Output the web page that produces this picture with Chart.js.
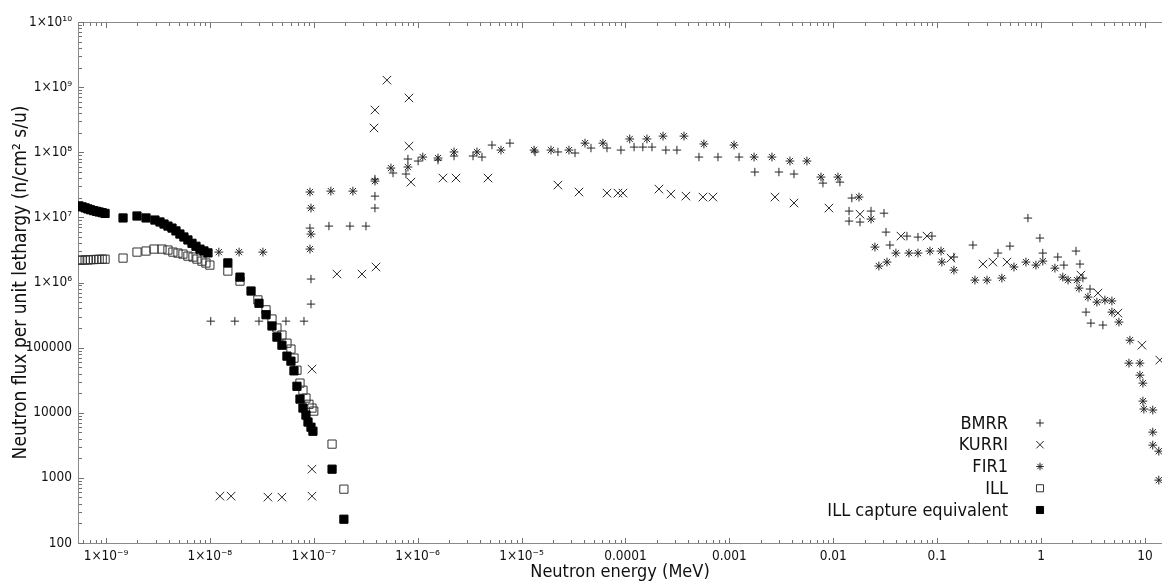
<!DOCTYPE html>
<html><head><meta charset="utf-8">
<script src="https://cdn.jsdelivr.net/npm/chart.js@4.4.1/dist/chart.umd.min.js"></script>
<style>html,body{margin:0;padding:0;background:#fff;overflow:hidden}</style>
</head><body>
<canvas id="c" width="1162" height="583"></canvas>
<script>
// ---------- data (energy in MeV, flux in n/cm2 s/u) ----------
const bmrrE = [1.02e-8,1.74e-8,2.97e-8,5.40e-8,8.05e-8,9.40e-8,9.40e-8,9.19e-8,1.40e-7,2.23e-7,3.18e-7,3.88e-7,3.88e-7,3.88e-7,5.79e-7,7.72e-7,8.06e-7,1.01e-6,1.57e-6,2.24e-6,3.41e-6,4.16e-6,5.19e-6,7.73e-6,1.35e-5,2.24e-5,3.27e-5,4.66e-5,6.64e-5,9.05e-5,1.21e-4,1.47e-4,1.80e-4,2.45e-4,3.13e-4,5.10e-4,7.77e-4,1.24e-3,1.76e-3,3.00e-3,4.19e-3,7.96e-3,1.16e-2,1.51e-2,1.42e-2,1.42e-2,1.81e-2,2.31e-2,3.08e-2,3.22e-2,3.51e-2,5.12e-2,6.54e-2,8.91e-2,0.145,0.221,0.385,0.502,0.748,0.976,1.04,1.45,1.66,2.17,2.37,2.53,2.96,2.71,3.02,3.94];
const bmrrFlux = [2.55e5,2.55e5,2.55e5,2.55e5,2.55e5,4.66e5,1.13e6,6.85e6,7.35e6,7.35e6,7.35e6,1.39e7,2.12e7,3.87e7,4.80e7,4.63e7,7.87e7,7.33e7,7.59e7,8.75e7,8.75e7,8.44e7,1.29e8,1.38e8,1.01e8,1.01e8,9.73e7,1.16e8,1.16e8,1.08e8,1.20e8,1.20e8,1.20e8,1.08e8,1.08e8,8.44e7,8.44e7,8.44e7,4.97e7,4.97e7,4.63e7,3.36e7,3.48e7,1.98e7,1.25e7,8.77e6,8.47e6,1.25e7,1.16e7,5.94e6,3.76e6,5.16e6,4.98e6,5.16e6,2.46e6,3.76e6,2.83e6,3.62e6,9.76e6,4.81e6,2.83e6,2.46e6,1.85e6,3.04e6,1.92e6,1.17e6,7.93e5,3.51e5,2.38e5,2.22e5];

const kurriE = [1.25e-8,1.60e-8,3.62e-8,4.94e-8,9.61e-8,9.61e-8,9.61e-8,1.67e-7,2.91e-7,3.97e-7,3.80e-7,3.88e-7,5.06e-7,8.25e-7,8.25e-7,8.62e-7,1.75e-6,2.34e-6,4.75e-6,2.24e-5,3.57e-5,6.64e-5,8.47e-5,9.46e-5,2.10e-4,2.74e-4,3.82e-4,5.57e-4,6.95e-4,2.75e-3,4.19e-3,9.09e-3,1.81e-2,4.48e-2,7.98e-2,0.136,0.276,0.344,0.470,2.42,3.53,5.50,9.36,13.9];
const kurriFlux = [524,524,506,506,524,1360,4.68e4,1.35e6,1.35e6,1.73e6,2.36e8,4.45e8,1.28e9,6.81e8,1.24e8,3.48e7,4.02e7,4.02e7,4.02e7,3.13e7,2.45e7,2.36e7,2.36e7,2.36e7,2.72e7,2.28e7,2.12e7,2.05e7,2.05e7,2.05e7,1.66e7,1.39e7,1.12e7,5.16e6,5.16e6,2.37e6,1.92e6,2.06e6,2.06e6,1.30e6,6.87e5,3.39e5,1.09e5,6.43e4];

const fir1E = [1.22e-8,1.91e-8,3.24e-8,9.19e-8,9.40e-8,9.40e-8,9.19e-8,1.46e-7,2.38e-7,3.88e-7,5.53e-7,8.06e-7,1.12e-6,1.57e-6,2.24e-6,3.72e-6,6.34e-6,1.32e-5,1.92e-5,2.86e-5,4.08e-5,6.07e-5,1.10e-4,1.61e-4,2.30e-4,3.66e-4,5.69e-4,1.11e-3,1.73e-3,2.57e-3,3.83e-3,5.58e-3,7.62e-3,1.11e-2,1.77e-2,2.31e-2,2.52e-2,2.75e-2,3.29e-2,4.01e-2,5.35e-2,6.54e-2,8.53e-2,0.109,0.111,0.145,0.231,0.302,0.420,0.549,0.716,0.893,1.04,1.36,1.62,1.82,2.22,2.32,2.83,3.45,4.12,4.81,4.81,5.62,7.17,7.02,8.95,8.95,9.56,9.56,9.77,11.9,11.9,11.9,13.6,13.6];
const fir1Flux = [2.93e6,2.93e6,2.93e6,2.45e7,1.39e7,5.54e6,3.26e6,2.53e7,2.53e7,3.61e7,5.72e7,5.93e7,8.44e7,8.15e7,1.01e8,1.01e8,1.08e8,1.08e8,1.08e8,1.08e8,1.38e8,1.38e8,1.60e8,1.60e8,1.77e8,1.77e8,1.34e8,1.29e8,8.44e7,8.44e7,7.33e7,7.33e7,4.16e7,4.16e7,2.05e7,9.42e6,3.50e6,1.79e6,2.06e6,2.83e6,2.83e6,2.83e6,3.04e6,3.04e6,2.06e6,1.55e6,1.09e6,1.09e6,1.17e6,1.73e6,2.06e6,1.85e6,2.13e6,1.66e6,1.21e6,1.09e6,1.09e6,8.20e5,5.97e5,5.00e5,5.37e5,5.20e5,3.51e5,2.47e5,1.30e5,5.78e4,5.78e4,3.78e4,2.85e4,1.51e4,1.14e4,1.10e4,5.04e3,3.18e3,2.57e3,923];

const illE = [5.5e-10,5.9e-10,6.3e-10,6.7e-10,7.1e-10,7.6e-10,8.1e-10,8.6e-10,9.2e-10,9.8e-10,1.46e-9,1.99e-9,2.43e-9,2.90e-9,3.46e-9,3.95e-9,4.41e-9,4.93e-9,5.51e-9,6.15e-9,6.88e-9,7.51e-9,8.39e-9,9.17e-9,1.00e-8,1.49e-8,1.95e-8,2.90e-8,3.47e-8,3.96e-8,4.42e-8,4.94e-8,5.52e-8,6.03e-8,6.45e-8,6.89e-8,7.37e-8,7.87e-8,8.41e-8,8.99e-8,9.61e-8,1.00e-7,1.50e-7,1.95e-7];
const illFlux = [2.20e6,2.20e6,2.22e6,2.22e6,2.24e6,2.25e6,2.26e6,2.27e6,2.28e6,2.28e6,2.37e6,2.93e6,3.04e6,3.26e6,3.26e6,3.15e6,2.93e6,2.83e6,2.73e6,2.54e6,2.46e6,2.29e6,2.13e6,1.99e6,1.85e6,1.50e6,1.05e6,5.4e5,3.8e5,2.75e5,2.0e5,1.56e5,1.17e5,9.5e4,6.9e4,4.5e4,2.85e4,2.22e4,1.68e4,1.35e4,1.18e4,1.06e4,3.3e3,671];

const illCapE = [5.5e-10,5.9e-10,6.3e-10,6.7e-10,7.1e-10,7.6e-10,8.1e-10,8.6e-10,9.2e-10,9.8e-10,1.46e-9,1.99e-9,2.43e-9,2.96e-9,3.31e-9,3.62e-9,3.95e-9,4.32e-9,4.72e-9,5.15e-9,5.63e-9,6.15e-9,6.73e-9,7.35e-9,8.03e-9,8.77e-9,9.59e-9,1.49e-8,1.95e-8,2.49e-8,2.97e-8,3.47e-8,3.96e-8,4.42e-8,4.94e-8,5.52e-8,6.03e-8,6.45e-8,6.89e-8,7.37e-8,7.87e-8,8.41e-8,8.80e-8,9.40e-8,9.82e-8,1.50e-7,1.95e-7];
const illCapFlux = [1.50e7,1.45e7,1.40e7,1.35e7,1.31e7,1.27e7,1.24e7,1.21e7,1.18e7,1.15e7,9.8e6,1.05e7,9.8e6,9.1e6,8.5e6,7.9e6,7.35e6,6.85e6,6.2e6,5.55e6,5.0e6,4.5e6,4.0e6,3.6e6,3.25e6,3.05e6,2.85e6,2.0e6,1.21e6,7.4e5,4.8e5,3.2e5,2.15e5,1.45e5,1.09e5,7.4e4,6.2e4,4.4e4,2.55e4,1.62e4,1.18e4,9.2e3,7.2e3,6.0e3,5.2e3,1.36e3,232];

const seriesNames = ['BMRR','KURRI','FIR1','ILL','ILL capture equivalent'];

const xTickValues = [1e-9,1e-8,1e-7,1e-6,1e-5,1e-4,1e-3,1e-2,1e-1,1,10];
const xTickLabels = ['1×10⁻⁹','1×10⁻⁸','1×10⁻⁷','1×10⁻⁶','1×10⁻⁵','0.0001','0.001','0.01','0.1','1','10'];
const yTickValues = [1e2,1e3,1e4,1e5,1e6,1e7,1e8,1e9,1e10];
const yTickLabels = ['100','1000','10000','100000','1×10⁶','1×10⁷','1×10⁸','1×10⁹','1×10¹⁰'];

const X_MIN = 5.38e-10, X_MAX = 14.6, Y_MIN = 100, Y_MAX = 1e10;

// ---------- fonts ----------
function hasFont(name){
  const c = document.createElement('canvas').getContext('2d');
  c.font = '40px monospace'; const a = c.measureText('0.0001 abcMWxyz').width;
  c.font = '40px "' + name + '", monospace'; const b = c.measureText('0.0001 abcMWxyz').width;
  return a !== b;
}
const COND = hasFont('DejaVu Sans Condensed');
const FAM = COND ? '"DejaVu Sans Condensed", "DejaVu Sans", sans-serif' : '"DejaVu Sans", sans-serif';
const K = COND ? 1 : 0.9;
const TICK_SIZE = 13.5 * K, XTITLE_SIZE = 18 * K, YTITLE_SIZE = 19 * K, LEG_SIZE = 18 * K;

const pts = (xs, ys) => xs.map((v, i) => ({x: v, y: ys[i]}));
const MARK = '#262626';

const styles = [
  {pointStyle:'cross',    pointRadius:4.2, borderColor:MARK, backgroundColor:MARK},
  {pointStyle:'crossRot', pointRadius:6,   borderColor:MARK, backgroundColor:MARK},
  {pointStyle:'star',     pointRadius:4.4, borderColor:MARK, backgroundColor:MARK},
  {pointStyle:'rect',     pointRadius:5.8, borderColor:'#333', backgroundColor:'rgba(0,0,0,0)'},
  {pointStyle:'rect',     pointRadius:5.8, borderColor:'#000', backgroundColor:'#000'}
];

const dataSets = [pts(bmrrE,bmrrFlux), pts(kurriE,kurriFlux), pts(fir1E,fir1Flux), pts(illE,illFlux), pts(illCapE,illCapFlux)];
const orders = [3,2,4,1,0];

const datasets = seriesNames.map((n, i) => Object.assign({
  label: n, data: dataSets[i], showLine: false, borderWidth: 1, pointBorderWidth: 1,
  pointHoverRadius: styles[i].pointRadius, order: orders[i]
}, styles[i]));

function labelFor(values, labels, v){
  const i = values.findIndex(t => Math.abs(Math.log10(t) - Math.log10(v)) < 1e-6);
  return i >= 0 ? labels[i] : '';
}

// axis frame + inward tick marks
const axisDeco = {
  id: 'axisDeco',
  beforeDatasetsDraw(chart){
    const {ctx, chartArea: a, scales: {x, y}} = chart;
    ctx.save();
    ctx.lineWidth = 1;
    ctx.strokeStyle = '#8a8a8a';
    ctx.beginPath();
    ctx.moveTo(a.left + 0.5, a.top); ctx.lineTo(a.left + 0.5, a.bottom + 1);
    ctx.moveTo(a.left, a.bottom + 0.5); ctx.lineTo(a.right, a.bottom + 0.5);
    ctx.moveTo(a.left, a.top + 0.5); ctx.lineTo(a.right, a.top + 0.5);
    ctx.stroke();
    ctx.strokeStyle = '#707070';
    ctx.beginPath();
    for (let d = -10; d <= 1; d++) {
      for (let m = 1; m <= 9; m++) {
        const v = m * Math.pow(10, d);
        if (v < X_MIN || v > X_MAX) continue;
        const px = Math.round(x.getPixelForValue(v)) + 0.5;
        const len = m === 1 ? 5 : 3;
        ctx.moveTo(px, a.bottom); ctx.lineTo(px, a.bottom - len);
        ctx.moveTo(px, a.top + 1); ctx.lineTo(px, a.top + 1 + len);
      }
    }
    for (let d = 2; d <= 10; d++) {
      for (let m = 1; m <= 9; m++) {
        const v = m * Math.pow(10, d);
        if (v < Y_MIN || v > Y_MAX) continue;
        const py = Math.round(y.getPixelForValue(v)) + 0.5;
        const len = m === 1 ? 5 : 3;
        ctx.moveTo(a.left + 1, py); ctx.lineTo(a.left + 1 + len, py);
      }
    }
    ctx.stroke();
    ctx.restore();
  }
};

// legend inside the plot, text right-aligned, marker on the right
const legendIn = {
  id: 'legendIn',
  afterDraw(chart){
    const {ctx} = chart;
    const textRight = 1008, markX = 1040, y0 = 423, dy = 21.75;
    ctx.save();
    ctx.font = LEG_SIZE + 'px ' + FAM;
    ctx.textAlign = 'right';
    ctx.textBaseline = 'middle';
    chart.data.datasets.forEach((ds, i) => {
      const yy = y0 + i * dy;
      ctx.fillStyle = '#111';
      ctx.fillText(ds.label, textRight, yy + 1);
      ctx.strokeStyle = ds.borderColor;
      ctx.fillStyle = ds.backgroundColor;
      ctx.lineWidth = 1;
      const r = ds.pointStyle === 'rect' ? 5 : (ds.pointStyle === 'crossRot' ? 5.2 : 3.8);
      Chart.helpers.drawPoint(ctx, {pointStyle: ds.pointStyle, radius: r, rotation: 0, borderWidth: 1}, markX, yy);
    });
    ctx.restore();
  }
};

new Chart(document.getElementById('c'), {
  type: 'scatter',
  data: {datasets},
  options: {
    responsive: false, animation: false, devicePixelRatio: 1,
    layout: {autoPadding: false, padding: {top: 22, right: 0, left: 0, bottom: 0}},
    plugins: {legend: {display: false}, tooltip: {enabled: false}},
    scales: {
      x: {
        type: 'logarithmic', position: 'bottom', min: X_MIN, max: X_MAX,
        grid: {display: false, drawTicks: false}, border: {display: false},
        afterBuildTicks: s => { s.ticks = xTickValues.map(v => ({value: v})); },
        afterFit: s => { s.height = 40; s.paddingLeft = 0; s.paddingRight = 0; },
        ticks: {autoSkip: false, maxRotation: 0, minRotation: 0, padding: 5, color: '#111',
          font: {family: FAM, size: TICK_SIZE},
          callback: v => labelFor(xTickValues, xTickLabels, v)},
        title: {display: true, text: 'Neutron energy (MeV)', color: '#111',
          font: {family: FAM, size: XTITLE_SIZE}, padding: {top: 0, bottom: 0}}
      },
      y: {
        type: 'logarithmic', position: 'left', min: Y_MIN, max: Y_MAX,
        grid: {display: false, drawTicks: false}, border: {display: false},
        afterBuildTicks: s => { s.ticks = yTickValues.map(v => ({value: v})); },
        afterFit: s => { s.width = 78; },
        ticks: {autoSkip: false, padding: 6, color: '#111',
          font: {family: FAM, size: TICK_SIZE},
          callback: v => labelFor(yTickValues, yTickLabels, v)},
        title: {display: true, text: 'Neutron flux per unit lethargy (n/cm² s/u)', color: '#111',
          font: {family: FAM, size: YTITLE_SIZE}, padding: {top: 9.5, bottom: 0}}
      }
    }
  },
  plugins: [axisDeco, legendIn]
});
</script>
</body></html>
